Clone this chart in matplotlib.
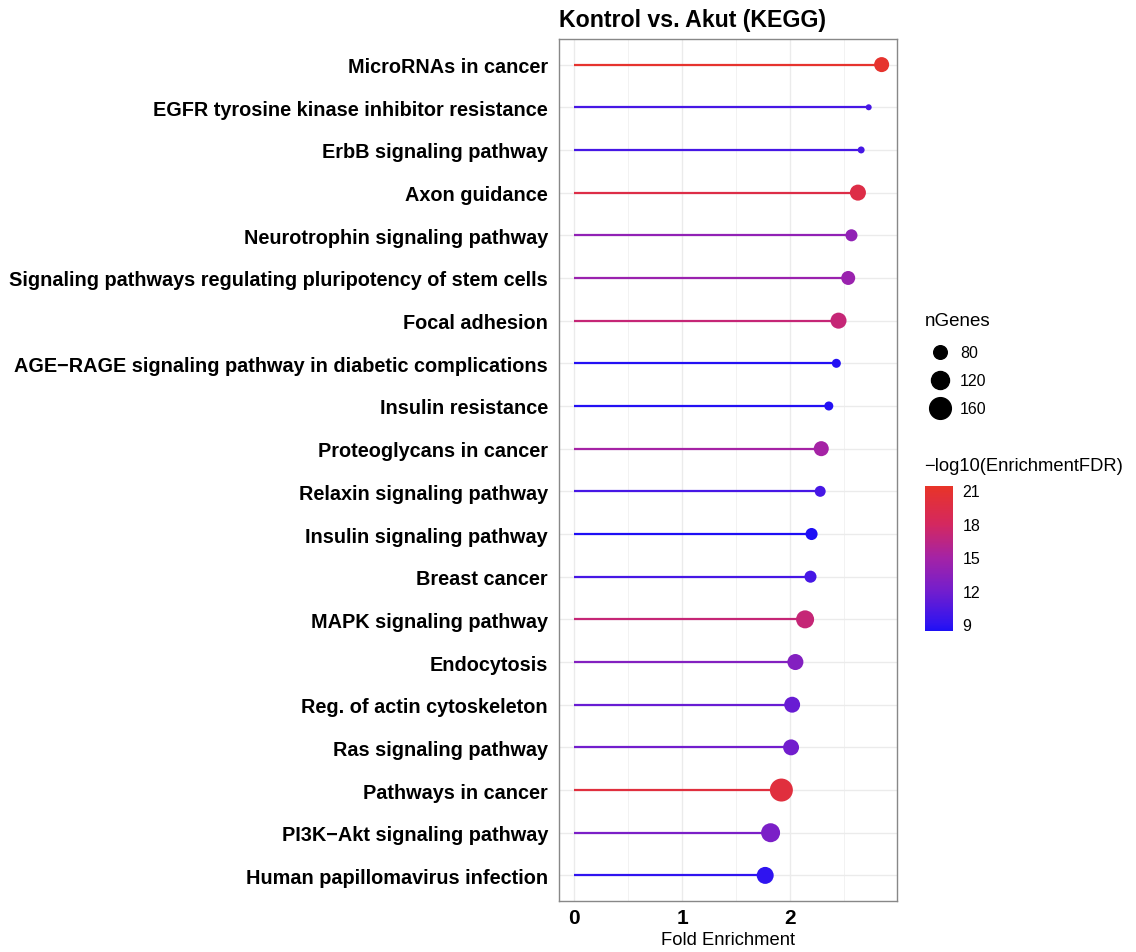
import numpy as np
import matplotlib
matplotlib.use("Agg")
import matplotlib.pyplot as plt
from matplotlib.colors import LinearSegmentedColormap, Normalize
from matplotlib.lines import Line2D

plt.rcParams['font.family'] = ['Liberation Sans', 'DejaVu Sans']

pathways = [
    "MicroRNAs in cancer",
    "EGFR tyrosine kinase inhibitor resistance",
    "ErbB signaling pathway",
    "Axon guidance",
    "Neurotrophin signaling pathway",
    "Signaling pathways regulating pluripotency of stem cells",
    "Focal adhesion",
    "AGE\u2212RAGE signaling pathway in diabetic complications",
    "Insulin resistance",
    "Proteoglycans in cancer",
    "Relaxin signaling pathway",
    "Insulin signaling pathway",
    "Breast cancer",
    "MAPK signaling pathway",
    "Endocytosis",
    "Reg. of actin cytoskeleton",
    "Ras signaling pathway",
    "Pathways in cancer",
    "PI3K\u2212Akt signaling pathway",
    "Human papillomavirus infection",
]
fold_enrichment = [2.85, 2.73, 2.66, 2.63, 2.57, 2.54, 2.45, 2.43, 2.36, 2.29,
                   2.28, 2.20, 2.19, 2.14, 2.05, 2.02, 2.01, 1.92, 1.82, 1.77]
neg_log10_fdr = [21.0, 10.0, 10.0, 19.5, 13.8, 14.3, 17.0, 8.6, 8.6, 15.0,
                 10.0, 8.4, 10.0, 17.0, 13.0, 11.5, 12.0, 20.0, 12.5, 9.0]
n_genes = [92, 30, 35, 101, 68, 83, 101, 47, 47, 92,
           60, 68, 68, 120, 101, 100, 100, 175, 130, 110]
size_legend = [80, 120, 160]
color_ticks = [9, 12, 15, 18, 21]
x_ticks = [0, 1, 2]
title = "Kontrol vs. Akut (KEGG)"

# ---- colour scale sampled from the reference colour bar ----
vmin, vmax = 8.4, 21.4
stops = [(8.4, (30, 15, 245)), (9, (48, 20, 240)), (12, (115, 30, 205)),
         (15, (165, 35, 165)), (18, (212, 40, 95)), (21.4, (232, 52, 40))]
cmap = LinearSegmentedColormap.from_list(
    "bluered", [((v - vmin) / (vmax - vmin), tuple(c / 255 for c in rgb)) for v, rgb in stops])
norm = Normalize(vmin=vmin, vmax=vmax)

# ---- size scale (diameter in px, sqrt-mapped) ----
DPI = 100
nmin, nmax = 30, 175
def diam_px(n):
    return 6 + (23 - 6) * (np.sqrt(n) - np.sqrt(nmin)) / (np.sqrt(nmax) - np.sqrt(nmin))
def s_area(n):
    d_pt = diam_px(np.asarray(n, float)) * 72 / DPI
    return d_pt ** 2

fig = plt.figure(figsize=(11.36, 9.53), dpi=DPI)
W, H = 1136, 953
left, right, top, bottom = 559, 897, 40, 902
ax = fig.add_axes([left / W, 1 - bottom / H, (right - left) / W, (bottom - top) / H])

ypos = np.arange(len(pathways))[::-1]
cols = cmap(norm(np.array(neg_log10_fdr)))
for y, x, c in zip(ypos, fold_enrichment, cols):
    ax.plot([0, x], [y, y], color=c, lw=1.6, solid_capstyle='butt', zorder=2)
ax.scatter(fold_enrichment, ypos, s=s_area(n_genes), c=cols, edgecolors='none', zorder=3)

ax.set_xlim(-0.1425, 2.9925)
ax.set_ylim(-0.6, len(pathways) - 1 + 0.6)
ax.set_yticks(ypos)
ax.set_yticklabels(pathways, fontsize=14.3, fontweight='bold')
ax.set_xticks(x_ticks)
ax.set_xticklabels([str(t) for t in x_ticks], fontsize=15, fontweight='bold')
ax.set_xticks([0.5, 1.5, 2.5], minor=True)
ax.tick_params(axis='both', which='both', length=0, pad=8, colors='black')
ax.tick_params(axis='x', pad=5)
ax.grid(True, which='major', color='#ebebeb', lw=1.0, zorder=0)
ax.grid(True, which='minor', axis='x', color='#f2f2f2', lw=0.7, zorder=0)
ax.set_axisbelow(True)
for sp in ax.spines.values():
    sp.set_color('#888888')
    sp.set_linewidth(1.0)
ax.set_xlabel("Fold Enrichment", fontsize=13.2, labelpad=3)
ax.set_title(title, fontsize=16.7, fontweight='bold', loc='left', pad=9)

# ---- size legend ----
fig.text(925 / W, 1 - 322 / H, "nGenes", fontsize=13.5, va='center', ha='left')
for n, yy in zip(size_legend, [353, 381, 409]):
    fig.add_artist(Line2D([940 / W], [1 - yy / H], marker='o', color='black',
                          markersize=diam_px(n) * 72 / DPI,
                          linestyle='none', transform=fig.transFigure))
    fig.text(960 / W, 1 - yy / H, str(n), fontsize=11.5, va='center', ha='left')

# ---- colourbar ----
fig.text(924 / W, 1 - 467 / H, "\u2212log10(EnrichmentFDR)", fontsize=13.2, va='center', ha='left')
cax = fig.add_axes([925 / W, 1 - 632 / H, 28 / W, 145 / H])
cb = fig.colorbar(plt.cm.ScalarMappable(norm=norm, cmap=cmap), cax=cax, ticks=color_ticks)
cb.outline.set_visible(False)
cax.tick_params(length=4, color='white', width=0.8, labelsize=11.5, pad=3)
cax.tick_params(which='minor', length=0)

fig.savefig("out.png", dpi=DPI)
